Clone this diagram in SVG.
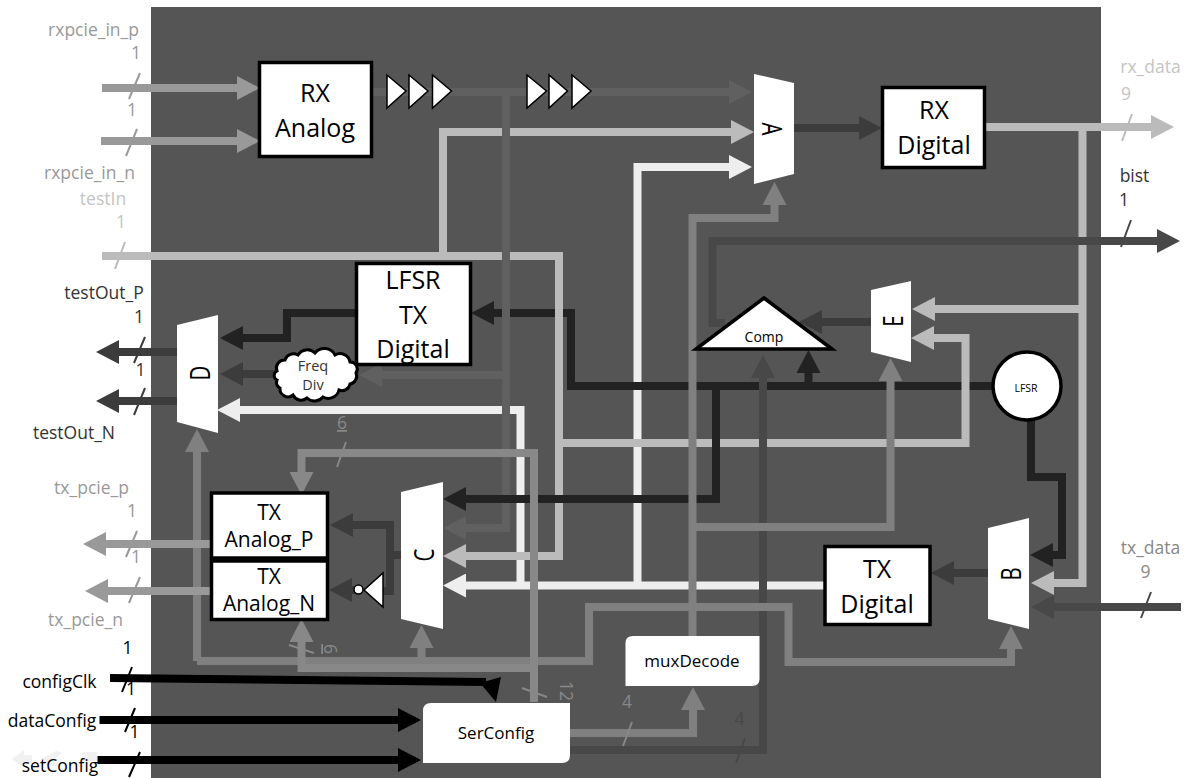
<svg xmlns="http://www.w3.org/2000/svg" width="1188" height="778" viewBox="0 0 1188 778">
<style>
text{font-family:"Open Sans","Liberation Sans",sans-serif}
.w{fill:none;stroke-width:8}
.box{fill:#fff;stroke:#000;stroke-width:3.5}
.mux{fill:#fff}
.big{font-size:25px;text-anchor:middle;fill:#000}
.mid{font-size:21px;text-anchor:middle;fill:#000}
.sm{font-size:17px;text-anchor:middle;fill:#000}
.lb{font-size:17.5px;text-anchor:middle}
.ml{font-size:24px;text-anchor:middle;fill:#000}
.s{stroke-width:2;fill:none}
.c99{stroke:#999}.cbb{stroke:#bbb}.cee{stroke:#eee}.c80{stroke:#808080}.c88{stroke:#888}.c60{stroke:#606060}.c48{stroke:#484848}.c3c{stroke:#3c3c3c}.c22{stroke:#222}.c00{stroke:#000}
.t99{fill:#999}.tbb{fill:#c4c4c4}.t88{fill:#888}.t48{fill:#484848}.t30{fill:#333}.t00{fill:#000}
</style>
<defs>
<marker id="h99" markerUnits="userSpaceOnUse" markerWidth="24" markerHeight="24" refX="0" refY="12" orient="auto"><path d="M0 0L23 12L0 24z" fill="#999"/></marker>
<marker id="hbb" markerUnits="userSpaceOnUse" markerWidth="24" markerHeight="24" refX="0" refY="12" orient="auto"><path d="M0 0L23 12L0 24z" fill="#bbb"/></marker>
<marker id="hee" markerUnits="userSpaceOnUse" markerWidth="24" markerHeight="24" refX="0" refY="12" orient="auto"><path d="M0 0L23 12L0 24z" fill="#eee"/></marker>
<marker id="h80" markerUnits="userSpaceOnUse" markerWidth="24" markerHeight="24" refX="0" refY="12" orient="auto"><path d="M0 0L23 12L0 24z" fill="#808080"/></marker>
<marker id="h88" markerUnits="userSpaceOnUse" markerWidth="24" markerHeight="24" refX="0" refY="12" orient="auto"><path d="M0 0L23 12L0 24z" fill="#888"/></marker>
<marker id="h60" markerUnits="userSpaceOnUse" markerWidth="24" markerHeight="24" refX="0" refY="12" orient="auto"><path d="M0 0L23 12L0 24z" fill="#606060"/></marker>
<marker id="h48" markerUnits="userSpaceOnUse" markerWidth="24" markerHeight="24" refX="0" refY="12" orient="auto"><path d="M0 0L23 12L0 24z" fill="#484848"/></marker>
<marker id="h3c" markerUnits="userSpaceOnUse" markerWidth="24" markerHeight="24" refX="0" refY="12" orient="auto"><path d="M0 0L23 12L0 24z" fill="#3c3c3c"/></marker>
<marker id="h22" markerUnits="userSpaceOnUse" markerWidth="24" markerHeight="24" refX="0" refY="12" orient="auto"><path d="M0 0L23 12L0 24z" fill="#222"/></marker>
<marker id="h00" markerUnits="userSpaceOnUse" markerWidth="24" markerHeight="24" refX="0" refY="12" orient="auto"><path d="M0 0L23 12L0 24z" fill="#000"/></marker>
</defs>
<rect id="panel" x="151" y="7" width="950" height="771" fill="#555"/>
<g id="watermark" fill="#f1f1f1">
<path d="M12 759L24 750V755H32V763H24V768z"/>
<path d="M41 759L56 751L63 753L52 760L58 766H50z"/>
<rect x="82" y="752" width="15" height="9"/>
</g>
<g id="connectors">
<path class="w cee" marker-end="url(#hee)" d="M824 585.500H466"/>
<path class="w cee" marker-end="url(#hee)" d="M637.500 585V167H729"/>
<path class="w cee" marker-end="url(#hee)" d="M520.500 585V410H240"/>
<path class="w c22" marker-end="url(#h22)" d="M995 386H571V313H494"/>
<path class="w c22" marker-end="url(#h22)" d="M808.500 386V373"/>
<path class="w cbb" d="M102 256H559V443H965.500V338H934"/>
<path class="w cbb" marker-end="url(#hbb)" d="M965.500 338H934"/>
<path class="w cbb" marker-end="url(#hbb)" d="M443 256V132H731"/>
<path class="w cbb" marker-end="url(#hbb)" d="M559 443V556H466"/>
<path class="w cbb" marker-end="url(#hbb)" d="M986 127H1151"/>
<path class="w cbb" marker-end="url(#hbb)" d="M1082.500 127V583H1054"/>
<path class="w cbb" marker-end="url(#hbb)" d="M1082.500 309H935"/>
<path class="w c60" marker-end="url(#h60)" d="M372 92H729"/>
<path class="w c60" marker-end="url(#h60)" d="M506 92V528H466"/>
<path class="w c60" marker-end="url(#h60)" d="M506 375H382"/>
<path class="w c22" marker-end="url(#h22)" d="M716 386V499H466"/>
<path class="w c22" marker-end="url(#h22)" d="M1031 420V477H1062V555H1053"/>
<path class="w c22" marker-end="url(#h22)" d="M355 313H287V338H243"/>
<path class="w c48" marker-end="url(#h48)" d="M570 750H763V378"/>
<path class="w c48" marker-end="url(#h48)" d="M725 323H712.500V241H1157"/>
<path class="w c48" marker-end="url(#h48)" d="M1181 607H1054"/>
<path class="w c3c" marker-end="url(#h3c)" d="M794 128H859"/>
<path class="w c3c" marker-end="url(#h3c)" d="M871 322H822"/>
<path class="w c3c" marker-end="url(#h3c)" d="M988 573H954"/>
<path class="w c3c" marker-end="url(#h3c)" d="M275 374H243"/>
<path class="w c3c" marker-end="url(#h3c)" d="M177 352H119"/>
<path class="w c3c" marker-end="url(#h3c)" d="M177 401H119"/>
<path class="w c3c" marker-end="url(#h3c)" d="M401 555H390V525H353"/>
<path class="w c3c" d="M390 555V591H382"/>
<path class="w c3c" marker-end="url(#h3c)" d="M358 590H352"/>
<path class="w c80" marker-end="url(#h80)" d="M692.500 636V218H774.500V205"/>
<path class="w c80" marker-end="url(#h80)" d="M692.500 527H890.500V381"/>
<path class="w c80" marker-end="url(#h80)" d="M197 661V452"/>
<path class="w c80" marker-end="url(#h80)" d="M197 661H589V607H788.500V662H1011V649"/>
<path class="w c80" marker-end="url(#h80)" d="M421.500 661V648"/>
<path class="w c80" marker-end="url(#h80)" d="M570 733H693V710"/>
<path class="w c88" marker-end="url(#h88)" d="M534 702V453H301.500V472"/>
<path class="w c88" marker-end="url(#h88)" d="M534 668H301.500V642"/>
<path class="w c99" marker-end="url(#h99)" d="M102 88H237"/>
<path class="w c99" marker-end="url(#h99)" d="M101 141H237"/>
<path class="w c99" marker-end="url(#h99)" d="M210 544H106"/>
<path class="w c99" marker-end="url(#h99)" d="M210 591H108"/>
<path class="w c00" d="M110 678L486 682"/>
<path d="M501 677L480 683L496 702z" fill="#000"/>
<path class="w c00" marker-end="url(#h00)" d="M99.500 720H398"/>
<path class="w c00" marker-end="url(#h00)" d="M97.500 760H398"/>
<g class="s">
<path class="c99" d="M140 73L129 99M137 129L126 156"/>
<path class="cbb" d="M125 242L115 269M1132 114L1122 141"/>
<path class="c3c" d="M145 337L134 363M145 388L134 415"/>
<path class="c48" d="M1131 220L1121 247M1151 592L1141 618M745 738L736 763"/>
<path class="c99" d="M137 531L126 557M140 577L129 603"/>
<path class="c88" d="M346 442L337 467M289 645L314 653M522 688L547 697M632 722L623 746"/>
<path class="c00" d="M132 667L122 692M135 708L125 732M140 752L129 777"/>
</g>
</g>
<g id="labels">
<text class="lb t99" x="93.500" y="36">rxpcie_in_p</text>
<text class="lb t99" x="136" y="59">1</text>
<text class="lb t99" x="132" y="116">1</text>
<text class="lb t99" x="89.500" y="179">rxpcie_in_n</text>
<text class="lb tbb" x="103" y="205">testIn</text>
<text class="lb tbb" x="121" y="228">1</text>
<text class="lb t30" x="104" y="299">testOut_P</text>
<text class="lb t30" x="139" y="323">1</text>
<text class="lb t30" x="140.500" y="376">1</text>
<text class="lb t30" x="74" y="439">testOut_N</text>
<text class="lb t99" x="91.500" y="494">tx_pcie_p</text>
<text class="lb t99" x="132" y="517">1</text>
<text class="lb t99" x="136" y="563">1</text>
<text class="lb t99" x="85.500" y="626">tx_pcie_n</text>
<text class="lb t00" x="127.500" y="654">1</text>
<text class="lb t00" x="59.500" y="688">configClk</text>
<text class="lb t00" x="131" y="695">1</text>
<text class="lb t00" x="52" y="727">dataConfig</text>
<text class="lb t00" x="134.500" y="738">1</text>
<text class="lb t00" x="60" y="772">setConfig</text>
<text class="lb tbb" x="1150.500" y="73">rx_data</text>
<text class="lb tbb" x="1126" y="100">9</text>
<text class="lb t30" x="1134.500" y="182">bist</text>
<text class="lb t30" x="1124" y="206">1</text>
<text class="lb t88" x="1150.500" y="554">tx_data</text>
<text class="lb t88" x="1145.500" y="578">9</text>
<text class="lb t88" x="342" y="429" text-decoration="underline">6</text>
<text class="lb t88" transform="translate(324 649) rotate(90)" text-decoration="underline">6</text>
<text class="lb t88" transform="translate(560 691) rotate(90)">12</text>
<text class="lb t88" x="627" y="708">4</text>
<text class="lb t48" x="739.500" y="725">4</text>
</g>
<g id="buffers" fill="#fff" stroke="#000" stroke-width="1.500">
<path d="M387 75V108L406 91z"/><path d="M409 75V108L428 91z"/><path d="M432.500 75V108L451.500 91z"/>
<path d="M527 75V108L546.500 91z"/><path d="M549 75V108L567.500 91z"/><path d="M572 75V108L591 91z"/>
</g>
<g id="rx-analog"><rect class="box" x="259.500" y="62.500" width="112" height="94"/><text class="big" x="315" y="102">RX</text><text class="big" x="315" y="137">Analog</text></g>
<g id="rx-digital"><rect class="box" x="882.500" y="87.500" width="102" height="80"/><text class="big" x="934" y="119">RX</text><text class="big" x="934" y="154">Digital</text></g>
<g id="lfsr-tx-digital"><rect class="box" x="356.500" y="263.500" width="114" height="101"/><text class="big" x="413" y="289">LFSR</text><text class="big" x="413" y="324">TX</text><text class="big" x="413" y="358">Digital</text></g>
<g id="tx-digital"><rect class="box" x="825" y="546.500" width="105" height="78"/><text class="big" x="877" y="578">TX</text><text class="big" x="877" y="613">Digital</text></g>
<g id="tx-analog-p"><rect class="box" x="211.500" y="493" width="116" height="65"/><text class="mid" x="269" y="520">TX</text><text class="mid" x="269" y="547">Analog_P</text></g>
<g id="tx-analog-n"><rect class="box" x="211.500" y="561" width="116" height="58.500"/><text class="mid" x="269" y="584">TX</text><text class="mid" x="269" y="611">Analog_N</text></g>
<g id="mux-a"><path class="mux" d="M754 74L794 83V174L754 184z"/><text class="ml" transform="translate(762 129) rotate(90) scale(.85 1.15)">A</text></g>
<g id="mux-b"><path class="mux" d="M988 528L1029 518V629L988 619z"/><text class="ml" transform="translate(1021 574) rotate(-90) scale(.85 1.15)">B</text></g>
<g id="mux-c"><path class="mux" d="M401 492L443 482V629L401 619z"/><text class="ml" transform="translate(434 555) rotate(-90) scale(.85 1.15)">C</text></g>
<g id="mux-d"><path class="mux" d="M177 325L218 315V433L177 422z"/><text class="ml" transform="translate(210 373) rotate(-90) scale(.85 1.15)">D</text></g>
<g id="mux-e"><path class="mux" d="M871 290L911 281V362L871 352z"/><text class="ml" transform="translate(903 321) rotate(-90) scale(.85 1.15)">E</text></g>
<g id="comp"><path d="M764 298L832 349H696z" fill="#fff" stroke="#000" stroke-width="3.500"/><text class="sm" x="764" y="342" style="font-size:14px">Comp</text></g>
<g id="lfsr"><circle cx="1027" cy="386" r="34" fill="#fff" stroke="#000" stroke-width="3.500"/><text class="sm" x="1026" y="392" style="font-size:10.500px">LFSR</text></g>
<g id="freq-div"><path d="M277 371A8 8 0 0 1 285 360A9 9 0 0 1 298 355A11 11 0 0 1 315 353A12 12 0 0 1 335 355A10 10 0 0 1 350 362A7 7 0 0 1 356 373A8 8 0 0 1 350 384A8 8 0 0 1 339 390A11 11 0 0 1 323 397A11 11 0 0 1 307 398A9 9 0 0 1 293 395A8 8 0 0 1 280 388A6 6 0 0 1 277 380A5 5 0 0 1 277 371z" fill="#fff" stroke="#000" stroke-width="3"/><text class="sm" x="313" y="371" style="font-size:14.500px;fill:#333">Freq</text><text class="sm" x="313" y="390" style="font-size:14.500px;fill:#333">Div</text></g>
<g id="inverter"><path d="M383 573V607L364 590z" fill="#fff" stroke="#000" stroke-width="1.500"/><circle cx="358.500" cy="589.500" r="4.500" fill="#fff" stroke="#000" stroke-width="1.500"/></g>
<g id="serconfig"><path class="mux" d="M431 703H570V755Q570 763 562 763H423V711Q423 703 431 703z"/><text class="sm" x="496" y="739">SerConfig</text></g>
<g id="muxdecode"><path class="mux" d="M633 636H759.500V679Q759.500 686 752 686H625.500V643Q625.500 636 633 636z"/><text class="sm" x="692" y="667">muxDecode</text></g>
</svg>
